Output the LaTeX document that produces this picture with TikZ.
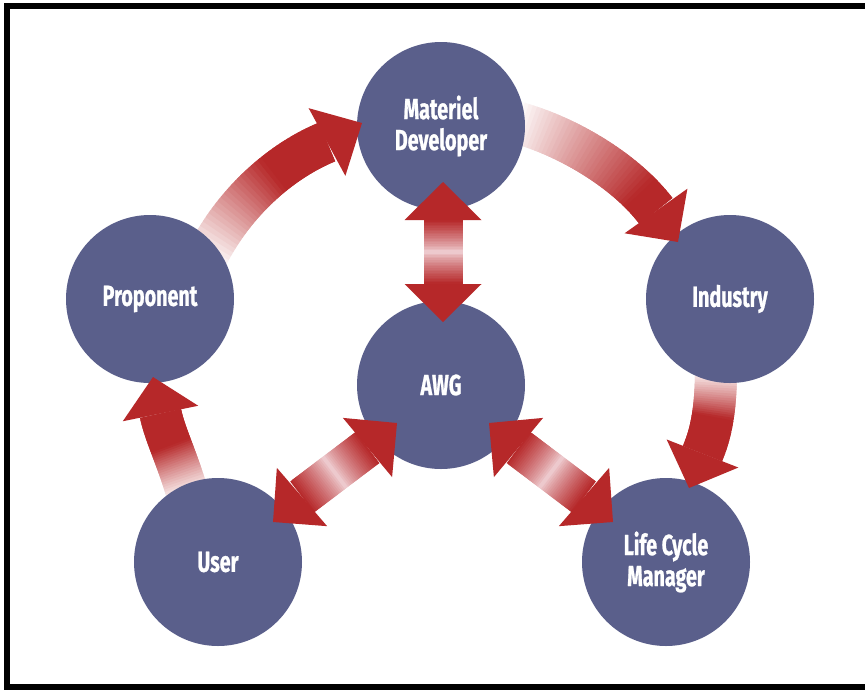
\documentclass[tikz,border=0pt]{standalone}
\usepackage{fontspec}
\newfontfamily\lab{Fira Sans}[FakeStretch=0.68,FakeBold=0.8]
\usetikzlibrary{calc}
\definecolor{arrowred}{RGB}{182,40,41}
\definecolor{nodeblue}{RGB}{90,95,139}
\definecolor{palepink}{RGB}{240,210,214}

\newcommand\bezpt[6]{%
 \pgfmathsetmacro\ba{(1-#1)^3}%
 \pgfmathsetmacro\bb{3*(1-#1)^2*#1}%
 \pgfmathsetmacro\bc{3*(1-#1)*#1^2}%
 \pgfmathsetmacro\bd{#1^3}%
 \coordinate (#6) at ($\ba*(#2)+\bb*(#3)+\bc*(#4)+\bd*(#5)$);}

\newcommand\fadeshaft[6]{%
 \foreach \k in {0,...,39}{%
   \pgfmathsetmacro\ta{\k/40}%
   \pgfmathsetmacro\tb{min(1,(\k+2)/40)}%
   \pgfmathsetmacro\cc{min(100,100*(\k+0.5)/40/#5)}%
   \bezpt{\ta}{#1}{#2}{#3}{#4}{sa}%
   \bezpt{\tb}{#1}{#2}{#3}{#4}{sb}%
   \draw[line width=#6, arrowred!\cc!white] (sa) -- (sb);
 }}

\newcommand\dblshaft[3]{%
 \foreach \k in {0,...,39}{%
   \pgfmathsetmacro\ta{\k/40}%
   \pgfmathsetmacro\tb{min(1,(\k+2)/40)}%
   \pgfmathsetmacro\cc{100*abs(2*(\k+0.5)/40-1)^0.8}%
   \draw[line width=#3, arrowred!\cc!palepink] ($(#1)!\ta!(#2)$) -- ($(#1)!\tb!(#2)$);
 }}

\newcommand\ahead[2]{\fill[arrowred] ($(#1)!38.5pt!90:(#2)$) -- (#2) -- ($(#1)!38.5pt!-90:(#2)$) -- cycle;}

\tikzset{hub/.style={circle, fill=nodeblue, minimum size=168pt, inner sep=0pt,
  text=white, align=center, font=\lab\bfseries\fontsize{29}{31}\selectfont}}

\begin{document}
\begin{tikzpicture}[x=1pt,y=-1pt]
\fill[white] (0,0) rectangle (865,689);
\useasboundingbox (0,0) rectangle (865,689);
\clip (0,0) rectangle (865,689);

% curved arrow geometry
\coordinate (a0) at (206,258); \coordinate (a1) at (235,200);
\coordinate (a2) at (283,160); \coordinate (a3) at (327,142); \coordinate (at) at (362,123);
\coordinate (b0) at (515,122); \coordinate (b1) at (565,135);
\coordinate (b2) at (625,170); \coordinate (b3) at (656,211); \coordinate (bt) at (678,242);
\coordinate (c0) at (716,370); \coordinate (c1) at (716,405);
\coordinate (c2) at (712,432); \coordinate (c3) at (702.5,453.5); \coordinate (ct) at (689,488);
\coordinate (d0) at (188,496); \coordinate (d1) at (178,460);
\coordinate (d2) at (165,435); \coordinate (d3) at (160.5,413.5); \coordinate (dt) at (153,377);
% double arrow geometry
\coordinate (e1) at (443,220); \coordinate (e1t) at (443,182);
\coordinate (e2) at (443,284); \coordinate (e2t) at (443,322);
\coordinate (f1) at (367.5,447.5); \coordinate (f1t) at (397,423);
\coordinate (f2) at (302,497); \coordinate (f2t) at (273,522);
\coordinate (g1) at (518.5,447.5); \coordinate (g1t) at (489,423);
\coordinate (g2) at (584,497); \coordinate (g2t) at (613,522);

\fadeshaft{a0}{a1}{a2}{a3}{0.6}{42pt}
\fadeshaft{b0}{b1}{b2}{b3}{0.85}{42pt}
\fadeshaft{c0}{c1}{c2}{c3}{0.5}{42pt}
\fadeshaft{d0}{d1}{d2}{d3}{0.55}{42pt}

\node[hub] (md) at (441,126) {Materiel\\Developer};
\node[hub] (pro) at (150,299) {Proponent};
\node[hub] (ind) at (730,299) {Industry};
\node[hub] (awg) at (441,385) {AWG};
\node[hub] (usr) at (218,562) {User};
\node[hub] (lcm) at (666,562) {Life Cycle\\Manager};

\dblshaft{e1}{e2}{39pt}
\dblshaft{f2}{f1}{39pt}
\dblshaft{g1}{g2}{39pt}

\ahead{a3}{at}
\ahead{b3}{bt}
\ahead{c3}{ct}
\ahead{d3}{dt}
\ahead{e1}{e1t}
\ahead{e2}{e2t}
\ahead{f1}{f1t}
\ahead{f2}{f2t}
\ahead{g1}{g1t}
\ahead{g2}{g2t}

\draw[line width=6pt] (880,5.5) -- (7,5.5) -- (7,687) -- (880,687);
\end{tikzpicture}
\end{document}
